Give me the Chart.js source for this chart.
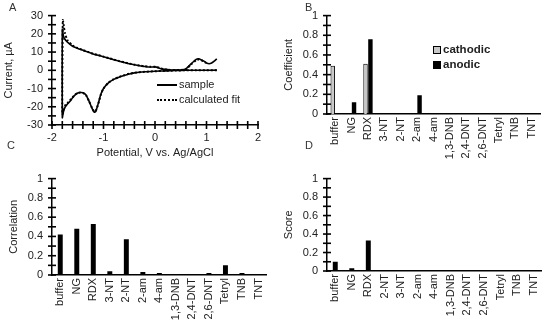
<!DOCTYPE html>
<html>
<head>
  <meta charset="utf-8">
  <title>Voltammogram fit and explosive coefficients</title>
  <script src="https://cdn.jsdelivr.net/npm/chart.js"></script>
  <style>
    body {
      margin: 0;
      width: 550px;
      height: 326px;
      position: relative;
      overflow: hidden;
      background: #fff;
      font-family: "Liberation Sans", Arial, sans-serif;
      color: #222;
    }
    canvas { position: absolute; }
    .tag { position: absolute; font-size: 11px; line-height: 13px; color: #333; }
    .leg { position: absolute; font-size: 11px; line-height: 13px; white-space: nowrap; }
    .leg i { display: inline-block; vertical-align: middle; margin-right: 2px; }
    .legB { font-weight: bold; font-size: 11.5px; }
  </style>
</head>
<body>
  <canvas id="chartA" width="275" height="163" style="left:0;top:0"></canvas>
  <canvas id="chartB" width="275" height="163" style="left:275px;top:0"></canvas>
  <canvas id="chartC" width="275" height="163" style="left:0;top:163px"></canvas>
  <canvas id="chartD" width="275" height="163" style="left:275px;top:163px"></canvas>

  <div class="tag" style="left:9px;top:1px">A</div>
  <div class="tag" style="left:305px;top:1px">B</div>
  <div class="tag" style="left:7px;top:139px">C</div>
  <div class="tag" style="left:305px;top:139px">D</div>

  <div class="leg" style="left:157px;top:78px"><i style="width:20px;border-top:2px solid #000"></i>sample</div>
  <div class="leg" style="left:157px;top:93px"><i style="width:20px;border-top:2px dotted #000"></i>calculated fit</div>

  <div class="leg legB" style="left:433px;top:43px"><i style="width:6px;height:6px;background:#c8c8c8;border:1px solid #000"></i>cathodic</div>
  <div class="leg legB" style="left:433px;top:58px"><i style="width:8px;height:8px;background:#000"></i>anodic</div>

  <script>
    // panel A: cyclic voltammogram, sweep starts at +1.2 V and goes negative first
    const potentialSample = [1.2, 1.0, 0.8, 0.6, 0.4, 0.2, 0.0, -0.2, -0.4, -0.5, -0.6, -0.7, -0.8, -0.9, -1.0, -1.05, -1.1, -1.15, -1.18, -1.22, -1.28, -1.34, -1.4, -1.45, -1.5, -1.55, -1.6, -1.65, -1.7, -1.75, -1.78, -1.8,
      -1.8, -1.78, -1.75, -1.7, -1.6, -1.5, -1.4, -1.3, -1.2, -1.1, -1.0, -0.9, -0.8, -0.7, -0.6, -0.5, -0.4, -0.3, -0.2, -0.1, 0.0, 0.05, 0.1, 0.2, 0.3, 0.4, 0.5, 0.6, 0.7, 0.8, 0.85, 0.9, 0.95, 1.0, 1.05, 1.1, 1.15, 1.2];
    const currentSample = [0.1, 0, 0, 0, -0.1, -0.3, -0.5, -0.8, -1.4, -2, -2.8, -3.8, -5, -6.8, -10, -13, -18, -22.5, -23, -21, -17, -13.5, -12.3, -12.2, -12.5, -13.5, -15, -17, -18.5, -20.5, -23, -26,
      22.5, 19, 17, 15.5, 13.2, 12, 11, 10, 9, 8.2, 7.4, 6.6, 5.8, 5, 4.3, 3.6, 3, 2.5, 2.1, 1.8, 1.9, 1.6, 1.0, 0.5, 0.2, 0.1, 0.2, 0.8, 3.5, 6, 6.3, 5.7, 5, 4, 3.6, 4, 5, 6.3];
    const potentialFit = [1.2, 1.0, 0.8, 0.6, 0.4, 0.2, 0.0, -0.2, -0.4, -0.5, -0.6, -0.7, -0.8, -0.9, -1.0, -1.05, -1.1, -1.15, -1.18, -1.22, -1.28, -1.34, -1.4, -1.45, -1.5, -1.55, -1.6, -1.65, -1.7, -1.73, -1.77, -1.8,
      -1.79, -1.77, -1.75, -1.7, -1.6, -1.5, -1.4, -1.3, -1.2, -1.1, -1.0, -0.9, -0.8, -0.7, -0.6, -0.5, -0.4, -0.3, -0.2, -0.1, 0.0, 0.05, 0.1, 0.2, 0.3, 0.4, 0.5, 0.6, 0.7, 0.8, 0.85, 0.9, 0.95, 1.0];
    const currentFit = [0, 0, 0, 0, -0.1, -0.3, -0.5, -0.8, -1.3, -1.9, -2.7, -3.7, -4.9, -6.7, -10, -13.2, -18.3, -22.3, -22.6, -20.8, -17, -13.6, -12.4, -12.2, -12.4, -13.3, -14.8, -16.5, -18, -18.5, -21.5, -24,
      27.5, 24, 20.5, 16.5, 13.6, 12.2, 11.1, 10.1, 9.1, 8.3, 7.5, 6.7, 5.9, 5.1, 4.4, 3.7, 3.1, 2.6, 2.2, 1.9, 2.0, 1.7, 1.1, 0.5, 0.2, 0.1, 0.2, 0.7, 3.2, 5.6, 5.9, 5.5, 4.8, 4];

    // panels B-D
    const analytesBC = ['buffer', 'NG', 'RDX', '3-NT', '2-NT', '2-am', '4-am', '1,3-DNB', '2,4-DNT', '2,6-DNT', 'Tetryl', 'TNB', 'TNT'];
    const analytesD = ['buffer', 'NG', 'RDX', '2-NT', '3-NT', '2-am', '4-am', '1,3-DNB', '2,4-DNT', '2,6-DNT', 'Tetryl', 'TNB', 'TNT'];
    const cathodic = [0.49, 0, 0.51, 0, 0, 0, 0, 0, 0, 0, 0, 0, 0];
    const anodic = [0, 0.12, 0.76, 0, 0, 0.19, 0, 0, 0, 0, 0, 0, 0];
    const correlation = [0.42, 0.48, 0.53, 0.04, 0.37, 0.03, 0.02, 0, 0, 0.02, 0.10, 0.02, 0];
    const score = [0.10, 0.03, 0.33, 0, 0, 0, 0, 0, 0, 0, 0, 0, 0];

    Chart.defaults.font.family = '"Liberation Sans", Arial, sans-serif';
    Chart.defaults.font.size = 11;
    Chart.defaults.color = '#222';

    // tick marks crossing the axis line, placed at the scale's own ticks
    function crossTicks(axes, len) {
      return {
        id: 'crossTicks',
        afterDraw(chart) {
          const ctx = chart.ctx, a = chart.chartArea;
          ctx.save();
          ctx.strokeStyle = '#000';
          ctx.lineWidth = 1.6;
          axes.forEach(id => {
            const s = chart.scales[id];
            s.ticks.forEach(t => {
              const p = s.getPixelForValue(t.value);
              ctx.beginPath();
              if (id === 'x') {
                ctx.moveTo(p, a.bottom + len);
                ctx.lineTo(p, a.bottom - len);
              } else {
                ctx.moveTo(a.left - len, p);
                ctx.lineTo(a.left + len, p);
              }
              ctx.stroke();
            });
          });
          ctx.restore();
        }
      };
    }

    const noGrid = { display: false, drawTicks: false };
    const axisLine = { color: '#000', width: 1.5 };

    function unitAxis(title) {
      return {
        min: 0,
        max: 1,
        ticks: {
          stepSize: 0.1,
          autoSkip: false,
          padding: 9,
          callback: v => Math.round(v * 10) % 2 === 0 ? String(Math.round(v * 10) / 10) : ''
        },
        grid: noGrid,
        border: axisLine,
        title: { display: true, text: title, padding: { top: 7, bottom: 0 } },
        afterFit: s => { s.width = 52; }
      };
    }

    function catAxis(h) {
      return {
        grid: noGrid,
        border: axisLine,
        ticks: { autoSkip: false, minRotation: 90, maxRotation: 90, padding: 3 },
        afterFit: s => { s.height = h; }
      };
    }

    function toPoints(xs, ys) {
      return xs.map((x, i) => ({ x: x, y: ys[i] }));
    }

    new Chart(document.getElementById('chartA'), {
      type: 'scatter',
      data: {
        datasets: [{
          label: 'calculated fit',
          data: toPoints(potentialFit, currentFit),
          showLine: true,
          pointRadius: 0,
          borderColor: '#000',
          borderWidth: 2,
          borderDash: [2, 2],
          tension: 0.2
        }, {
          label: 'sample',
          data: toPoints(potentialSample, currentSample),
          showLine: true,
          pointRadius: 0,
          borderColor: '#000',
          borderWidth: 1.6,
          tension: 0.2
        }]
      },
      options: {
        responsive: false,
        animation: false,
        layout: { padding: { top: 14, right: 17, left: 0, bottom: 0 } },
        plugins: { legend: { display: false }, tooltip: { enabled: false } },
        scales: {
          x: {
            type: 'linear',
            min: -2,
            max: 2,
            ticks: {
              stepSize: 0.2,
              autoSkip: false,
              maxRotation: 0,
              padding: 6,
              callback: v => Math.abs(v - Math.round(v)) < 1e-6 ? String(Math.round(v)) : ''
            },
            grid: noGrid,
            border: axisLine,
            title: { display: true, text: 'Potential, V vs. Ag/AgCl', padding: { top: 0, bottom: 3 } },
            afterFit: s => { s.height = 38; }
          },
          y: {
            min: -30,
            max: 30,
            ticks: {
              stepSize: 5,
              autoSkip: false,
              padding: 9,
              callback: v => v % 10 === 0 ? String(v) : ''
            },
            grid: noGrid,
            border: axisLine,
            title: { display: true, text: 'Current, µA', padding: { top: 2, bottom: 0 } },
            afterFit: s => { s.width = 52; }
          }
        }
      },
      plugins: [crossTicks(['x', 'y'], 4)]
    });

    new Chart(document.getElementById('chartB'), {
      type: 'bar',
      data: {
        labels: analytesBC,
        datasets: [{
          label: 'cathodic',
          data: cathodic,
          backgroundColor: '#c8c8c8',
          borderColor: '#000',
          borderWidth: 1,
          categoryPercentage: 0.6,
          barPercentage: 0.9
        }, {
          label: 'anodic',
          data: anodic,
          backgroundColor: '#000',
          categoryPercentage: 0.6,
          barPercentage: 0.9
        }]
      },
      options: {
        responsive: false,
        animation: false,
        layout: { padding: { top: 14, right: 10, left: 0, bottom: 0 } },
        plugins: { legend: { display: false }, tooltip: { enabled: false } },
        scales: { x: catAxis(49), y: unitAxis('Coefficient') }
      },
      plugins: [crossTicks(['y'], 4)]
    });

    new Chart(document.getElementById('chartC'), {
      type: 'bar',
      data: {
        labels: analytesBC,
        datasets: [{
          label: 'Correlation',
          data: correlation,
          backgroundColor: '#000',
          categoryPercentage: 1,
          barPercentage: 0.3
        }]
      },
      options: {
        responsive: false,
        animation: false,
        layout: { padding: { top: 7, right: 8, left: 0, bottom: 0 } },
        plugins: { legend: { display: false }, tooltip: { enabled: false } },
        scales: { x: catAxis(51), y: unitAxis('Correlation') }
      },
      plugins: [crossTicks(['y'], 4)]
    });

    new Chart(document.getElementById('chartD'), {
      type: 'bar',
      data: {
        labels: analytesD,
        datasets: [{
          label: 'Score',
          data: score,
          backgroundColor: '#000',
          categoryPercentage: 1,
          barPercentage: 0.3
        }]
      },
      options: {
        responsive: false,
        animation: false,
        layout: { padding: { top: 7, right: 7, left: 0, bottom: 0 } },
        plugins: { legend: { display: false }, tooltip: { enabled: false } },
        scales: { x: catAxis(55), y: unitAxis('Score') }
      },
      plugins: [crossTicks(['y'], 4)]
    });
  </script>
</body>
</html>
